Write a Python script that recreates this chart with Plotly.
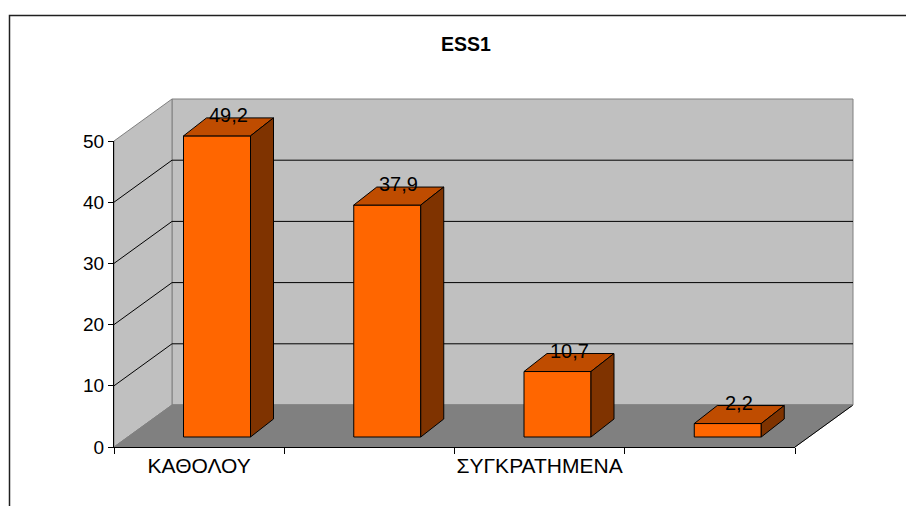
import plotly.graph_objects as go

# ---------------- data ----------------
categories = ["ΚΑΘΟΛΟΥ", "", "ΣΥΓΚΡΑΤΗΜΕΝΑ", ""]
values = [49.2, 37.9, 10.7, 2.2]
value_labels = [f"{v:.1f}".replace(".", ",") for v in values]
y_ticks = [0, 10, 20, 30, 40, 50]
title_text = "ESS1"

# ---------------- geometry / style ----------------
W, H = 906, 506
X_LEFT_PX, X_RIGHT_PX = 114, 795      # front floor edge
Y_ZERO_PX, Y_TOP_PX = 447, 141        # 0 and 50 on the front plane
N = len(categories)
Y_MAX = y_ticks[-1]
PXX = (X_RIGHT_PX - X_LEFT_PX) / N    # px per category
PXY = (Y_ZERO_PX - Y_TOP_PX) / Y_MAX  # px per value unit

WALL_DX, WALL_DY = 58 / PXX, 42 / PXY
BAR_OFF_X, BAR_W = 69.5 / PXX, 67 / PXX
BAR_OFF_Y = 10 / PXY
BAR_DX, BAR_DY = 23 / PXX, 18 / PXY

C_FRONT = "#FF6600"
C_TOP = "#BF4C00"
C_SIDE = "#7F3300"
C_WALL = "#C0C0C0"
C_FLOOR = "#808080"
C_WALL_EDGE = "#808080"
FONT = "Arial, Liberation Sans, sans-serif"

fig = go.Figure()


def poly(xs, ys, fill, edge, width=1):
    fig.add_trace(go.Scatter(
        x=list(xs) + [xs[0]], y=list(ys) + [ys[0]], mode="lines",
        fill="toself", fillcolor=fill, line=dict(color=edge, width=width),
        hoverinfo="skip", showlegend=False, xaxis="x", yaxis="y"))


def seg(xs, ys, color, width=1):
    fig.add_trace(go.Scatter(
        x=xs, y=ys, mode="lines", line=dict(color=color, width=width),
        hoverinfo="skip", showlegend=False, xaxis="x", yaxis="y"))


# back wall
poly([WALL_DX, N + WALL_DX, N + WALL_DX, WALL_DX],
     [WALL_DY, WALL_DY, Y_MAX + WALL_DY, Y_MAX + WALL_DY], C_WALL, C_WALL_EDGE)
# left side wall
poly([0, WALL_DX, WALL_DX, 0],
     [0, WALL_DY, Y_MAX + WALL_DY, Y_MAX], C_WALL, C_WALL_EDGE)
# floor
poly([0, N, N + WALL_DX, WALL_DX], [0, 0, WALL_DY, WALL_DY], C_FLOOR, C_FLOOR)
seg([N, N + WALL_DX], [0, WALL_DY], "#000000")
seg([WALL_DX, N + WALL_DX], [WALL_DY, WALL_DY], C_WALL_EDGE)

# gridlines
for t in y_ticks[1:-1]:
    seg([0, WALL_DX, N + WALL_DX], [t, t + WALL_DY, t + WALL_DY], "#000000")

# bars
for i, v in enumerate(values):
    x0 = i + BAR_OFF_X
    x1 = x0 + BAR_W
    b = BAR_OFF_Y
    t = BAR_OFF_Y + v
    poly([x0, x1, x1, x0], [b, b, t, t], C_FRONT, "#000000")
    poly([x0, x1, x1 + BAR_DX, x0 + BAR_DX], [t, t, t + BAR_DY, t + BAR_DY], C_TOP, "#000000")
    poly([x1, x1 + BAR_DX, x1 + BAR_DX, x1], [b, b + BAR_DY, t + BAR_DY, t], C_SIDE, "#000000")
    fig.add_annotation(x=x0 + BAR_W / 2 + BAR_DX / 2, y=t + BAR_DY, xref="x", yref="y",
                       text=value_labels[i], showarrow=False, yanchor="middle",
                       yshift=3, font=dict(family=FONT, size=20, color="#000000"))

# dummy trace for the front-axes subplot
fig.add_trace(go.Scatter(x=[None], y=[None], xaxis="x2", yaxis="y2",
                         showlegend=False, hoverinfo="skip"))

fig.update_layout(
    template="none",
    width=W, height=H, autosize=False,
    margin=dict(l=0, r=0, t=0, b=0, pad=0),
    paper_bgcolor="white", plot_bgcolor="rgba(0,0,0,0)",
    showlegend=False,
    title=dict(text=f"<b>{title_text}</b>", x=466 / W, y=1 - 44 / H,
               xref="paper", yref="container",
               xanchor="center", yanchor="middle", automargin=False,
               font=dict(family=FONT, size=19.5, color="#000000")),
    xaxis=dict(domain=[0, 1], range=[-X_LEFT_PX / PXX, N + (W - X_RIGHT_PX) / PXX],
               visible=False, fixedrange=True, automargin=False),
    yaxis=dict(domain=[0, 1], range=[-(H - Y_ZERO_PX) / PXY, Y_ZERO_PX / PXY],
               visible=False, fixedrange=True, automargin=False),
    xaxis2=dict(domain=[X_LEFT_PX / W, X_RIGHT_PX / W], range=[0, N], anchor="y2",
                showline=True, linecolor="#000000", linewidth=1, automargin=False,
                showgrid=False, zeroline=False, fixedrange=True,
                tickmode="array", tickvals=[i + 0.5 for i in range(N)],
                ticktext=categories, ticks="",
                minor=dict(tickmode="array", tickvals=list(range(N + 1)),
                           ticks="outside", ticklen=6, tickcolor="#000000", showgrid=False),
                tickfont=dict(family=FONT, size=21, color="#000000")),
    yaxis2=dict(domain=[(H - Y_ZERO_PX) / H, (H - Y_TOP_PX) / H], range=[0, Y_MAX],
                anchor="x2", showline=True, linecolor="#000000", linewidth=1,
                automargin=False,
                showgrid=False, zeroline=False, fixedrange=True,
                tickmode="array", tickvals=y_ticks, ticks="outside", ticklen=5,
                tickcolor="#000000",
                tickfont=dict(family=FONT, size=19, color="#000000")),
)

# outer chart border
fig.add_shape(type="rect", xref="paper", yref="paper",
              x0=9.5 / W, x1=1.05, y0=-0.05, y1=1 - 15.5 / H,
              line=dict(color="#202020", width=1.5), fillcolor="rgba(0,0,0,0)")

fig.write_html("out.html", config={"displayModeBar": False, "staticPlot": True},
               post_script="document.body.style.margin='0';document.body.style.overflow='hidden';")
